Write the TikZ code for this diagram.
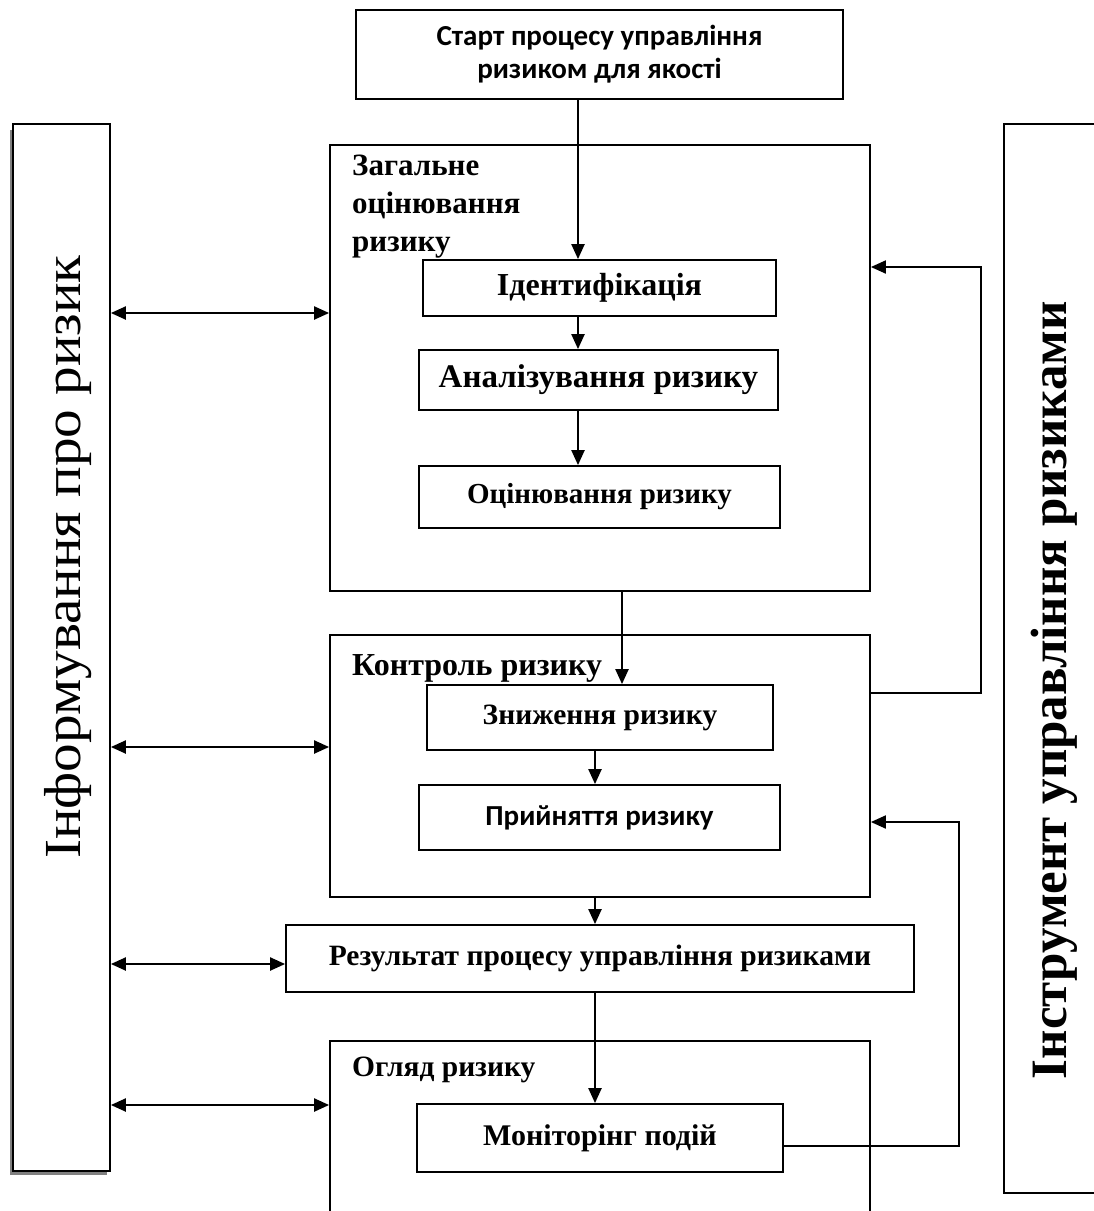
\documentclass[tikz,border=0pt]{standalone}
\usepackage{fontspec}
\setmainfont{Liberation Serif}
\newfontfamily\calfont{Carlito}
\usetikzlibrary{arrows.meta}
\newcommand{\fsz}[1]{\fontsize{#1}{#1}\selectfont\bfseries}
\begin{document}
\begin{tikzpicture}[x=1pt,y=-1pt,
  box/.style={draw, line width=1.8pt, inner sep=0pt, fill=white},
  lbl/.style={font=\fsz{#1}},
  arr/.style={line width=2.2pt, -{Triangle[length=15pt,width=13pt]}},
  darr/.style={line width=2.2pt, {Triangle[length=15pt,width=13pt]}-{Triangle[length=15pt,width=13pt]}},
  fb/.style={line width=2pt, -{Triangle[length=15pt,width=13pt]}}]
\clip (0,0) rectangle (1094,1211);
\fill[white] (0,0) rectangle (1094,1211);
% shadow of left box
\fill[black!50] (10,130) rectangle (107,1175);
% side boxes
\node[box, minimum width=97pt, minimum height=1047pt] (left) at (61.5,647.5) {};
\node[font=\fontsize{52}{56}\selectfont, rotate=90, xscale=1.1] (lefttxt) at (68,557) {Інформування про ризик};
\node[box, minimum width=106pt, minimum height=1069pt] (right) at (1057,658.5) {};
\node[font=\fontsize{51}{54}\selectfont\bfseries, rotate=90] (righttxt) at (1054,690) {Інструмент управління ризиками};
% top box
\node[box, minimum width=487pt, minimum height=89pt, align=center, font=\calfont\fontsize{29}{33}\selectfont\bfseries] (top) at (599.5,54.5) {Старт процесу управління\\ризиком для якості};
% group boxes
\node[box, minimum width=540pt, minimum height=446pt] (zah) at (600,368) {};
\node[anchor=north west, align=left, inner sep=0pt, font=\fontsize{31}{38}\selectfont\bfseries] (zahtxt) at (352,155) {Загальне\\оцінювання\\ризику};
\node[box, minimum width=540pt, minimum height=262pt] (kon) at (600,766) {};
\node[lbl=32, anchor=north west, inner sep=0pt] (kontxt) at (352,654) {Контроль ризику};
\node[box, minimum width=540pt, minimum height=199pt] (ohl) at (600,1140.5) {};
\node[lbl=29.5, anchor=north west, inner sep=0pt] (ohltxt) at (352,1057) {Огляд ризику};
% inner boxes
\node[box, lbl=32, minimum width=353pt, minimum height=56pt] (ident) at (599.5,288) {Ідентифікація};
\node[box, lbl=33, minimum width=359pt, minimum height=60pt] (anal) at (598.5,380) {Аналізування ризику};
\node[box, lbl=29, minimum width=361pt, minimum height=62pt] (ocin) at (599.5,497) {Оцінювання ризику};
\node[box, lbl=29.5, minimum width=346pt, minimum height=65pt] (znyzh) at (600,717.5) {Зниження ризику};
\node[box, minimum width=361pt, minimum height=65pt, font=\calfont\fsz{29}] (pryin) at (599.5,817.5) {Прийняття ризику};
\node[box, lbl=29.5, minimum width=628pt, minimum height=67pt] (rez) at (600,958.5) {Результат процесу управління ризиками};
\node[box, lbl=30, minimum width=366pt, minimum height=68pt] (mon) at (600,1138) {Моніторінг подій};
% vertical arrows
\draw[arr] ([xshift=-21.5pt]top.south) -- ([xshift=-21.5pt]ident.north);
\draw[arr] ([xshift=-21.5pt]ident.south) -- ([xshift=-20.5pt]anal.north);
\draw[arr] ([xshift=-20.5pt]anal.south) -- ([xshift=-21.5pt]ocin.north);
\draw[arr] ([xshift=22pt]zah.south) -- ([xshift=22pt]znyzh.north);
\draw[arr] ([xshift=-5pt]znyzh.south) -- ([xshift=-4.5pt]pryin.north);
\draw[arr] ([xshift=-5pt]kon.south) -- ([xshift=-5pt]rez.north);
\draw[arr] ([xshift=-5pt]rez.south) -- ([xshift=-5pt]mon.north);
% feedback
\draw[fb] ([yshift=73pt]kon.east) -- ++(110,0) |- ([yshift=101pt]zah.east);
\draw[fb] ([yshift=-8pt]mon.east) -- ++(175,0) |- ([yshift=-56pt]kon.east);
% double arrows
\coordinate (a1) at ([yshift=55pt]zah.west);
\coordinate (a2) at ([yshift=19pt]kon.west);
\coordinate (a3) at ([yshift=-5.5pt]rez.west);
\coordinate (a4) at ([yshift=35.5pt]ohl.west);
\draw[darr] (a1 -| left.east) -- (a1);
\draw[darr] (a2 -| left.east) -- (a2);
\draw[darr] (a3 -| left.east) -- (a3);
\draw[darr] (a4 -| left.east) -- (a4);
\end{tikzpicture}
\end{document}
